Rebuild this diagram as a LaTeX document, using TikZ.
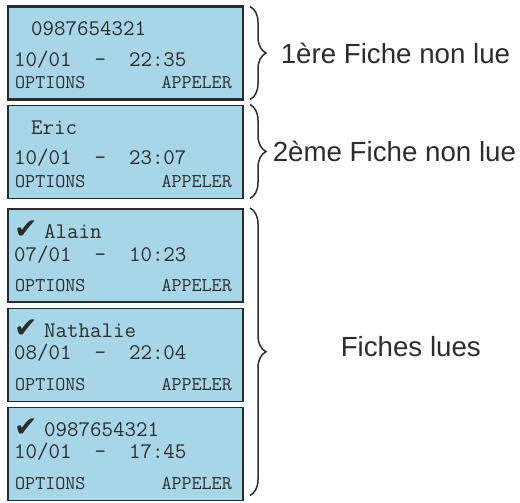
\documentclass[tikz,border=0pt]{standalone}
\usepackage{fontspec}
\setmainfont{Liberation Sans}
\setmonofont{Latin Modern Mono}
\newfontfamily\symb{DejaVu Sans}
\usetikzlibrary{positioning}
\usetikzlibrary{decorations.pathreplacing}
\definecolor{lcd}{RGB}{166,214,232}
\definecolor{cadre}{RGB}{40,44,46}
\definecolor{texte}{RGB}{45,45,45}

\begin{document}
\begin{tikzpicture}[x=1pt, y=-1pt,
  ecran/.style = {shape=rectangle, draw=cadre, fill=lcd, line width=1.5pt,
    minimum width=235pt, minimum height=93pt, inner sep=0pt, outer sep=0pt},
  ligne/.style = {anchor=base west, inner sep=0pt, text=texte,
    font=\ttfamily\fontsize{22.3}{22.3}\selectfont},
  menu/.style = {inner sep=0pt, text=texte, font=\ttfamily\fontsize{19.5}{19.5}\selectfont},
  coche/.style = {anchor=base west, inner sep=0pt, text=texte,
    font=\symb\fontsize{28}{28}\selectfont},
  accolade/.style = {draw=texte, line width=1.5pt, decorate,
    decoration={brace, amplitude=16pt}},
  legende/.style = {anchor=west, inner sep=0pt, text=texte,
    font=\fontsize{27.7}{27.7}\selectfont}]
  \useasboundingbox (0,0) rectangle (520,503);

  \node[ecran, line width=2.5pt] (f1) at (125.5,53) {};
  \node[ecran] (f2) at (125.5,152) {};
  \node[ecran] (f3) at (125.5,255.5) {};
  \node[ecran] (f4) at (125.5,355) {};
  \node[ecran] (f5) at (125.5,454) {};

  \node[ligne] (nom1) at ([xshift=23pt, yshift=-29pt]f1.north west) {0987654321};
  \node[ligne] (date1) at ([xshift=6pt, yshift=-60pt]f1.north west) {10/01~~-~~22:35};
  \node[ligne] (nom2) at ([xshift=23pt, yshift=-29pt]f2.north west) {Eric};
  \node[ligne] (date2) at ([xshift=6pt, yshift=-59pt]f2.north west) {10/01~~-~~23:07};

  \node[coche] (coche3) at ([xshift=6pt, yshift=-29pt]f3.north west) {✔};
  \node[ligne] (nom3) at ([xshift=36pt, yshift=-29pt]f3.north west) {Alain};
  \node[ligne] (date3) at ([xshift=6pt, yshift=-52pt]f3.north west) {07/01~~-~~10:23};
  \node[coche] (coche4) at ([xshift=6pt, yshift=-29pt]f4.north west) {✔};
  \node[ligne] (nom4) at ([xshift=36pt, yshift=-29pt]f4.north west) {Nathalie};
  \node[ligne] (date4) at ([xshift=6pt, yshift=-51pt]f4.north west) {08/01~~-~~22:04};
  \node[coche] (coche5) at ([xshift=6pt, yshift=-29pt]f5.north west) {✔};
  \node[ligne] (nom5) at ([xshift=36pt, yshift=-29pt]f5.north west) {0987654321};
  \node[ligne] (date5) at ([xshift=6pt, yshift=-51pt]f5.north west) {10/01~~-~~17:45};

  \foreach \f in {f1,f2,f3,f4,f5} {
    \node[menu, anchor=base west] (opt-\f) at ([xshift=7pt, yshift=-82pt]\f.north west) {OPTIONS};
    \node[menu, anchor=base east] (app-\f) at ([xshift=-11pt, yshift=-82pt]\f.north east) {APPELER};
  }

  \draw[accolade] ([xshift=7pt]f1.north east) -- ([xshift=7pt]f1.south east)
    node[legende, midway, xshift=30pt] (l1) {1ère Fiche non lue};
  \draw[accolade] ([xshift=7pt, yshift=1pt]f2.north east) -- ([xshift=7pt]f2.south east)
    node[legende, midway, xshift=22pt] (l2) {2ème Fiche non lue};
  \draw[accolade] ([xshift=7pt, yshift=1pt]f3.north east) -- ([xshift=7pt, yshift=5pt]f5.south east)
    node[legende, midway, xshift=90pt, yshift=5pt] (l3) {Fiches lues};
\end{tikzpicture}
\end{document}
